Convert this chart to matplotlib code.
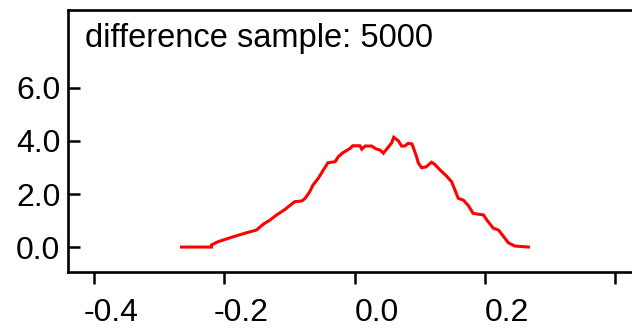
import matplotlib
matplotlib.use("Agg")
import matplotlib.pyplot as plt
from matplotlib.transforms import ScaledTranslation

plt.rcParams["font.family"] = ["Liberation Sans", "DejaVu Sans"]

# difference distribution (density)
diff_x = [-0.266, -0.220, -0.220, -0.210, -0.194, -0.181, -0.166, -0.151, -0.140,
          -0.130, -0.120, -0.107, -0.099, -0.092, -0.081, -0.076, -0.069, -0.064,
          -0.056, -0.048, -0.041, -0.030, -0.025, -0.018, -0.007, -0.003, 0.008,
          0.011, 0.016, 0.026, 0.033, 0.039, 0.044, 0.052, 0.057, 0.060, 0.067,
          0.072, 0.077, 0.082, 0.088, 0.091, 0.095, 0.098, 0.103, 0.110, 0.118,
          0.123, 0.131, 0.141, 0.149, 0.154, 0.159, 0.167, 0.175, 0.182, 0.198,
          0.203, 0.213, 0.221, 0.228, 0.236, 0.246, 0.267]
density = [0.00, 0.00, 0.08, 0.20, 0.33, 0.43, 0.54, 0.64, 0.87,
           1.02, 1.21, 1.42, 1.58, 1.71, 1.74, 1.84, 2.09, 2.34,
           2.59, 2.91, 3.18, 3.22, 3.41, 3.56, 3.72, 3.82, 3.82,
           3.69, 3.81, 3.81, 3.70, 3.66, 3.54, 3.78, 3.94, 4.14, 4.01,
           3.81, 3.81, 3.91, 3.89, 3.69, 3.41, 3.16, 2.99, 3.03, 3.20,
           3.12, 2.91, 2.68, 2.46, 2.15, 1.84, 1.77, 1.55, 1.27, 1.21,
           1.02, 0.71, 0.64, 0.42, 0.16, 0.04, 0.00]

x_ticks = [-0.4, -0.2, 0.0, 0.2, 0.4]
x_labels = ["-0.4", "-0.2", "0.0", "0.2", ""]
y_ticks = [0, 2, 4, 6]
y_labels = ["0.0", "2.0", "4.0", "6.0"]
sample_size = 5000

fig = plt.figure(figsize=(6.32, 3.29), dpi=100)
ax = fig.add_axes([0.1076, 0.1733, 0.8924, 0.7963])

ax.plot(diff_x, density, color="#ff0000", linewidth=2.2, solid_joinstyle="miter")

ax.set_xlim(-0.4404, 0.426)
ax.set_ylim(-0.94, 8.94)
ax.set_xticks(x_ticks)
ax.set_xticklabels(x_labels)
ax.set_yticks(y_ticks)
ax.set_yticklabels(y_labels)

for side in ("left", "bottom", "top"):
    ax.spines[side].set_linewidth(1.9)
ax.spines["right"].set_visible(False)

ax.tick_params(axis="x", direction="out", length=8.5, width=1.8, pad=10, labelsize=23)
ax.tick_params(axis="y", direction="in", length=8.5, width=1.8, pad=5.5, labelsize=23)

# digits start at the tick, a leading minus hangs to the left
for lbl in ax.get_xticklabels():
    lbl.set_horizontalalignment("left")
    if lbl.get_text().startswith("-"):
        lbl.set_transform(lbl.get_transform() + ScaledTranslation(-0.107, 0, fig.dpi_scale_trans))

ax.text(0.030, 0.952, f"difference sample: {sample_size}", transform=ax.transAxes,
        ha="left", va="top", fontsize=23.5)

fig.savefig("out.png", dpi=100)
plt.close(fig)
